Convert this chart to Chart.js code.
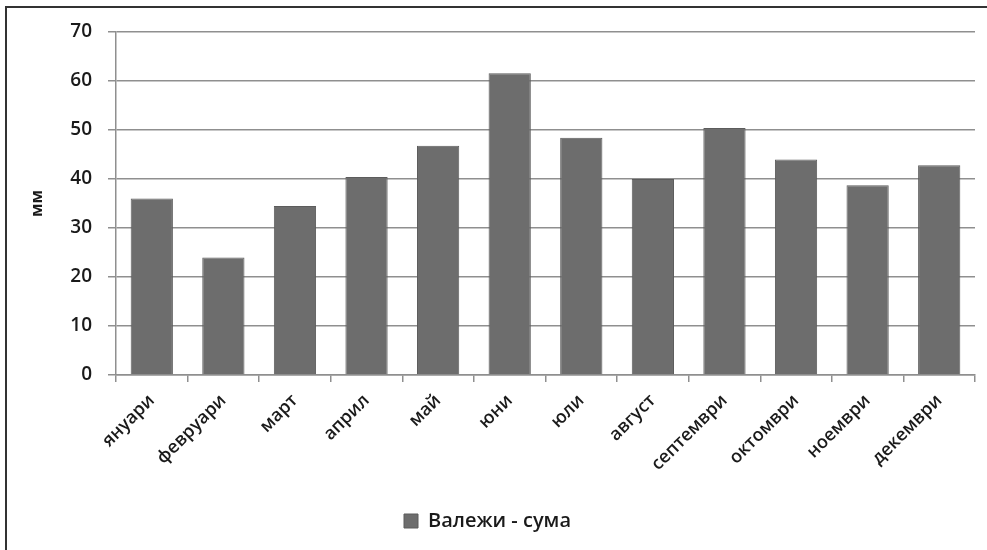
<!DOCTYPE html>
<html>
<head>
<meta charset="utf-8">
<script src="https://cdn.jsdelivr.net/npm/chart.js@4.4.0/dist/chart.umd.min.js"></script>
<style>
  html, body { margin: 0; padding: 0; background: #fff; }
  #wrap { position: relative; width: 987px; height: 550px; overflow: hidden; }
  #frame { position: absolute; left: 5px; top: 6px; width: 990px; height: 560px; border-left: 2px solid #333; border-top: 2px solid #333; box-sizing: border-box; pointer-events: none; }
  canvas { position: absolute; left: 0; top: 0; }
</style>
</head>
<body>
<div id="wrap">
  <canvas id="c" width="987" height="550"></canvas>
  <div id="frame"></div>
</div>
<script>
// Monthly precipitation totals (mm)
const months = ['януари', 'февруари', 'март', 'април', 'май', 'юни', 'юли', 'август', 'септември', 'октомври', 'ноември', 'декември'];
const precipitation = [36, 24, 34.5, 40.4, 46.8, 61.6, 48.4, 40, 50.4, 44, 38.7, 42.8];
const seriesName = 'Валежи - сума';
const yTicks = [0, 10, 20, 30, 40, 50, 60, 70];
const yTitle = 'мм';

const FONT = "'Open Sans', sans-serif";
const GRID = '#8f8f8f';
const TEXT = '#1a1a1a';

new Chart(document.getElementById('c'), {
  type: 'bar',
  data: {
    labels: months,
    datasets: [{
      label: seriesName,
      data: precipitation,
      backgroundColor: '#6d6d6d',
      borderColor: '#5c5c5c',
      borderWidth: 1,
      barPercentage: 0.59,
      categoryPercentage: 1.0
    }]
  },
  options: {
    responsive: false,
    animation: false,
    layout: { padding: { left: 0, right: 12, top: 32, bottom: 9 } },
    plugins: {
      legend: {
        position: 'bottom',
        labels: {
          boxWidth: 14, boxHeight: 14, padding: 10,
          color: TEXT,
          font: { family: FONT, size: 20, weight: '600' }
        }
      },
      tooltip: { enabled: false }
    },
    scales: {
      x: {
        grid: { display: true, drawOnChartArea: false, offset: true, tickLength: 7, color: GRID, lineWidth: 1.5 },
        border: { display: true, color: GRID, width: 1.5 },
        ticks: {
          color: TEXT,
          font: { family: FONT, size: 18, weight: '600' },
          minRotation: 45, maxRotation: 45,
          padding: 8, autoSkip: false
        },
        afterFit(s) { s.height = 126; }
      },
      y: {
        min: 0, max: 70,
        afterBuildTicks(s) { s.ticks = yTicks.map(v => ({ value: v })); },
        grid: { color: GRID, lineWidth: 1.5, tickLength: 8 },
        border: { display: true, color: GRID, width: 1.5 },
        ticks: {
          color: TEXT,
          font: { family: FONT, size: 19, weight: '600' },
          padding: 16
        },
        title: {
          display: true, text: yTitle, color: TEXT,
          font: { family: FONT, size: 16, weight: 'bold' },
          padding: { top: 28, bottom: 0 }
        },
        afterFit(s) { s.width = 116; }
      }
    }
  }
});
</script>
</body>
</html>
